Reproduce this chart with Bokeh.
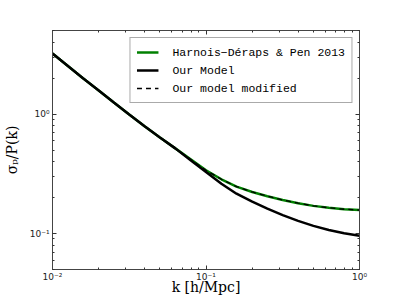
from bokeh.plotting import figure
from bokeh.models import (LogAxis, FixedTicker, Legend, LegendItem, ColumnDataSource,
                          Range1d, CustomJSTickFormatter)
from bokeh.embed import file_html
from bokeh.resources import INLINE

# data
k = [0.01, 0.0126, 0.0158, 0.02, 0.0251, 0.0316, 0.0398, 0.0501, 0.0631, 0.0794,
     0.1, 0.126, 0.158, 0.2, 0.251, 0.316, 0.398, 0.501, 0.631, 0.794, 1.0]
harnois = [3.205, 2.522, 1.992, 1.576, 1.249, 0.992, 0.791, 0.637, 0.516, 0.418,
           0.338, 0.2845, 0.247, 0.2226, 0.2054, 0.191, 0.1795, 0.1704, 0.1641, 0.1597, 0.157]
our_model = [3.205, 2.522, 1.992, 1.576, 1.249, 0.992, 0.791, 0.637, 0.516, 0.410,
             0.3267, 0.261, 0.2154, 0.1848, 0.1615, 0.1426, 0.1276, 0.1159, 0.1069, 0.1004, 0.0957]
our_modified = [3.205, 2.522, 1.992, 1.576, 1.249, 0.992, 0.791, 0.637, 0.516, 0.418,
                0.338, 0.2845, 0.247, 0.2226, 0.2054, 0.191, 0.1795, 0.1704, 0.1641, 0.1597, 0.157]
labels = ["Harnois\u2212D\u00e9raps & Pen 2013", "Our Model", "Our model modified"]
x_label = "k [h/Mpc]"
y_label = "\u03c3\u209a/P(k)"
x_major = [0.01, 0.1, 1.0]
y_major = [0.1, 1.0]

src = ColumnDataSource(dict(k=k, h=harnois, m=our_model, mm=our_modified))

p = figure(width=383, height=299, x_axis_type="log", y_axis_type="log",
           x_range=Range1d(0.01, 1.0), y_range=Range1d(0.05, 5.0),
           output_backend="svg", toolbar_location=None,
           min_border_left=50, min_border_right=24, min_border_top=30, min_border_bottom=30)
p.background_fill_color = "white"
p.border_fill_color = "white"
p.outline_line_color = "#444444"
p.outline_line_width = 1
p.grid.visible = False

r1 = p.line("k", "h", source=src, line_color="#008000", line_width=2.5)
r2 = p.line("k", "m", source=src, line_color="black", line_width=2.5)
r3 = p.line("k", "mm", source=src, line_color="black", line_width=1.3, line_dash="5 4")

p.add_layout(LogAxis(), "right")
p.add_layout(LogAxis(), "above")

def minors(lo_exp, hi_exp, lo, hi):
    out = []
    for e in range(lo_exp, hi_exp + 1):
        for m in range(2, 10):
            v = m * 10.0 ** e
            if lo <= v <= hi:
                out.append(v)
    return out

x_ticker = FixedTicker(ticks=x_major, minor_ticks=minors(-2, 0, 0.01, 1.0))
y_ticker = FixedTicker(ticks=y_major, minor_ticks=minors(-2, 0, 0.05, 5.0))

fmt = CustomJSTickFormatter(code="""
const e = Math.round(Math.log10(tick));
const sup = {'-':'\u207b','0':'\u2070','1':'\u00b9','2':'\u00b2','3':'\u00b3'};
return '10' + String(e).split('').map(c => sup[c]).join('');
""")
blank = CustomJSTickFormatter(code="return '';")

for ax in p.below + p.above:
    ax.ticker = x_ticker
for ax in p.left + p.right:
    ax.ticker = y_ticker

for ax in p.axis:
    ax.major_tick_in = 4
    ax.major_tick_out = 0
    ax.minor_tick_in = 2
    ax.minor_tick_out = 0
    ax.major_tick_line_color = "#333333"
    ax.minor_tick_line_color = "#333333"
    ax.axis_line_color = "#444444"
    ax.major_label_text_font = "DejaVu Sans"
    ax.major_label_text_font_size = "9px"
    ax.major_label_text_color = "#222222"
    ax.major_label_standoff = 3

for ax in (p.right[0], p.above[0]):
    ax.formatter = blank
    ax.major_label_standoff = 0
for ax in (p.below[0], p.left[0]):
    ax.formatter = fmt
p.below[0].major_label_standoff = 2

p.below[0].axis_label = x_label
p.left[0].axis_label = y_label
for ax in (p.below[0], p.left[0]):
    ax.axis_label_text_font = "DejaVu Serif"
    ax.axis_label_text_font_style = "normal"
    ax.axis_label_text_font_size = "14px"
    ax.axis_label_text_color = "black"
p.below[0].axis_label_standoff = -6
p.left[0].axis_label_standoff = 7

legend = Legend(items=[LegendItem(label=labels[0], renderers=[r1]),
                       LegendItem(label=labels[1], renderers=[r2]),
                       LegendItem(label=labels[2], renderers=[r3])],
                location="top_right")
legend.label_text_font = "Liberation Mono"
legend.label_text_font_size = "11.5px"
legend.label_text_color = "black"
legend.border_line_color = "#555555"
legend.border_line_width = 1
legend.background_fill_alpha = 1
legend.padding = 6
legend.spacing = 2
legend.margin = 7
legend.glyph_width = 22
legend.glyph_height = 16
legend.label_height = 16
legend.label_standoff = 14
p.add_layout(legend)

open("out.html", "w").write(file_html(p, INLINE))
